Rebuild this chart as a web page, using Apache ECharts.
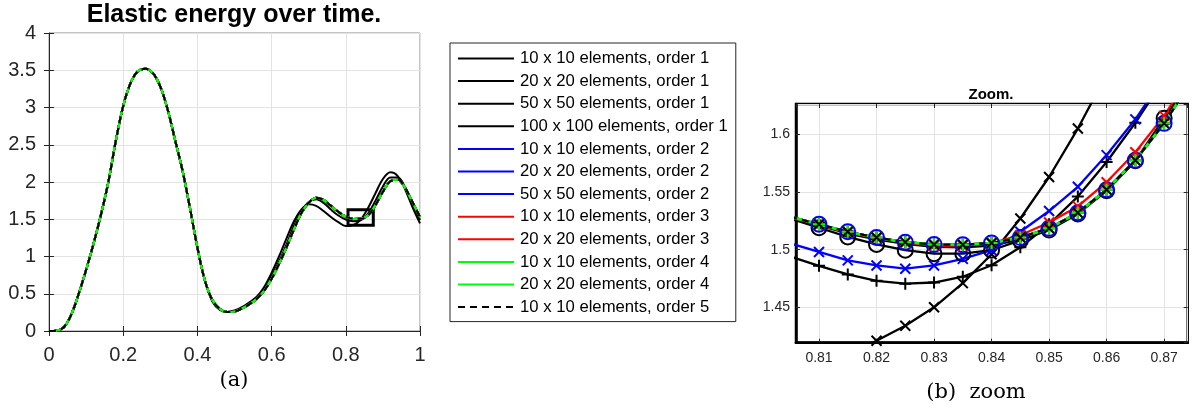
<!DOCTYPE html>
<html>
<head>
<meta charset="utf-8">
<script src="https://cdn.jsdelivr.net/npm/echarts@6/dist/echarts.min.js"></script>
<style>
  html, body { margin: 0; padding: 0; background: #fff; }
  #chart { width: 1192px; height: 408px; }
</style>
</head>
<body>
<div id="chart"></div>
<script>
// full run, sampled every 0.02
const tFull = [0, 0.02, 0.04, 0.06, 0.08, 0.1, 0.12, 0.14, 0.16, 0.18, 0.2, 0.22, 0.24, 0.26, 0.28, 0.3, 0.32, 0.34, 0.36, 0.38,
  0.4, 0.42, 0.44, 0.46, 0.48, 0.5, 0.52, 0.54, 0.56, 0.58, 0.6, 0.62, 0.64, 0.66, 0.68, 0.7, 0.72, 0.74, 0.76, 0.78,
  0.8, 0.82, 0.84, 0.86, 0.88, 0.9, 0.92, 0.94, 0.96, 0.98, 1];
// converged solution (orders 2-5 and fine order 1 sit on top of each other)
const energyRef = [0, 0.005, 0.05, 0.22, 0.5, 0.82, 1.17, 1.56, 2.0, 2.55, 3.02, 3.33, 3.49, 3.52, 3.46, 3.28, 2.97, 2.56, 2.15, 1.65,
  1.12, 0.68, 0.42, 0.3, 0.255, 0.26, 0.3, 0.36, 0.43, 0.54, 0.7, 0.9, 1.12, 1.36, 1.58, 1.72, 1.79, 1.76, 1.68, 1.6,
  1.535, 1.505, 1.506, 1.553, 1.69, 1.87, 2.01, 2.03, 1.92, 1.73, 1.53];
const energyO1n10 = [0, 0.005, 0.05, 0.22, 0.5, 0.82, 1.17, 1.56, 2.0, 2.55, 3.02, 3.33, 3.49, 3.52, 3.46, 3.28, 2.97, 2.56, 2.15, 1.65,
  1.12, 0.68, 0.4, 0.285, 0.255, 0.275, 0.32, 0.385, 0.46, 0.59, 0.78, 1.0, 1.24, 1.47, 1.63, 1.7, 1.68, 1.61, 1.53, 1.46,
  1.41, 1.421, 1.496, 1.652, 1.85, 2.04, 2.13, 2.08, 1.9, 1.66, 1.445];
const energyO1n20 = [0, 0.005, 0.05, 0.22, 0.5, 0.82, 1.17, 1.56, 2.0, 2.55, 3.02, 3.33, 3.49, 3.52, 3.46, 3.28, 2.97, 2.56, 2.15, 1.65,
  1.12, 0.68, 0.41, 0.29, 0.255, 0.265, 0.31, 0.37, 0.44, 0.56, 0.73, 0.93, 1.16, 1.41, 1.6, 1.73, 1.77, 1.72, 1.63, 1.55,
  1.496, 1.473, 1.4865, 1.576, 1.75, 1.94, 2.06, 2.06, 1.93, 1.72, 1.49];

// zoom window, sampled every 0.005
const tZoom = [0.805, 0.81, 0.815, 0.82, 0.825, 0.83, 0.835, 0.84, 0.845, 0.85, 0.855, 0.86, 0.865, 0.87, 0.875];
const zoomRef = [1.5285, 1.522, 1.5155, 1.5105, 1.5065, 1.5045, 1.5043, 1.5057, 1.5105, 1.5185, 1.532, 1.552, 1.5775, 1.6095, 1.648];
const zoomO1n10 = [1.395, 1.401, 1.409, 1.421, 1.434, 1.45, 1.471, 1.496, 1.527, 1.563, 1.605, 1.652, 1.7, 1.75, 1.8];
const zoomO1n20 = [1.494, 1.486, 1.4785, 1.473, 1.4705, 1.4715, 1.4765, 1.4865, 1.502, 1.522, 1.546, 1.576, 1.61, 1.648, 1.69];
const zoomO1n50 = [1.527, 1.519, 1.511, 1.5045, 1.4995, 1.4965, 1.4965, 1.4995, 1.508, 1.517, 1.531, 1.551, 1.577, 1.614, 1.652];
const zoomO1n100 = [1.528, 1.521, 1.514, 1.509, 1.505, 1.5025, 1.502, 1.5035, 1.509, 1.518, 1.532, 1.552, 1.577, 1.611, 1.65];
const zoomO2n10 = [1.5055, 1.498, 1.4907, 1.4863, 1.4835, 1.4863, 1.492, 1.4995, 1.5155, 1.5335, 1.5545, 1.582, 1.613, 1.65, 1.69];
const zoomO3n10 = [1.528, 1.5215, 1.515, 1.51, 1.506, 1.5035, 1.5035, 1.5055, 1.5125, 1.5235, 1.5375, 1.5585, 1.5845, 1.616, 1.655];

// zoom window limits (also the box drawn in the left plot)
const zoomX = [0.806, 0.8741];
const zoomY = [1.4193, 1.6263];

const runNames = [
  '10 x 10 elements, order 1',
  '20 x 20 elements, order 1',
  '50 x 50 elements, order 1',
  '100 x 100 elements, order 1',
  '10 x 10 elements, order 2',
  '20 x 20 elements, order 2',
  '50 x 50 elements, order 2',
  '10 x 10 elements, order 3',
  '20 x 20 elements, order 3',
  '10 x 10 elements, order 4',
  '20 x 20 elements, order 4',
  '10 x 10 elements, order 5',
];
const runFull = [energyO1n10, energyO1n20, energyRef, energyRef, energyRef, energyRef, energyRef, energyRef, energyRef, energyRef, energyRef, energyRef];
const runZoom = [zoomO1n10, zoomO1n20, zoomO1n50, zoomO1n100, zoomO2n10, zoomRef, zoomRef, zoomO3n10, zoomRef, zoomRef, zoomRef, zoomRef];

// styles
const runColor = ['#000', '#000', '#000', '#000', '#0000ff', '#0000ff', '#0000ff', '#ff0000', '#ff0000', '#00ff00', '#00ff00', '#000'];
const runMarker = ['x', '+', 'o', '.', 'x', '+', 'o', 'x', '+', 'x', '+', 'x'];

const FONT = 'Liberation Sans, Arial, sans-serif';
const AXIS_C = '#262626';
const X_MARK = 'path://M0,0L10,10M0,10L10,0';
const PLUS_MARK = 'path://M5,0L5,10M0,5L10,5';

function zip (xs, ys) {
  return xs.map((x, i) => [x, ys[i]]);
}

function markerOpts (kind, color) {
  if (kind == 'x') return {symbol: X_MARK, symbolSize: 10, itemStyle: {color: 'none', borderColor: color, borderWidth: 2}};
  if (kind == '+') return {symbol: PLUS_MARK, symbolSize: 12, itemStyle: {color: 'none', borderColor: color, borderWidth: 2}};
  if (kind == 'o') return {symbol: 'circle', symbolSize: 15, itemStyle: {color: 'none', borderColor: color, borderWidth: 2}};
  return {symbol: 'circle', symbolSize: 5, itemStyle: {color: color}};
}

const series = [];
// left plot: whole run, no markers
runNames.forEach((name, k) => {
  const dashed = k == runNames.length - 1;
  const s = {
    name,
    type: 'line',
    xAxisIndex: 0,
    yAxisIndex: 0,
    data: zip(tFull, runFull[k]),
    smooth: 0.35,
    symbol: 'none',
    showSymbol: false,
    itemStyle: {color: runColor[k]},
    lineStyle: {color: runColor[k], width: 2, type: dashed ? [7, 5] : 'solid'},
  };
  if (dashed) {
    s.markArea = {
      silent: true,
      itemStyle: {color: 'rgba(0,0,0,0)', borderColor: '#000', borderWidth: 3},
      data: [[{coord: [zoomX[0], zoomY[0]]}, {coord: [zoomX[1], zoomY[1]]}]],
    };
  }
  series.push(s);
});
// right plot: zoom, with markers
runNames.forEach((name, k) => {
  const dashed = k == runNames.length - 1;
  series.push(Object.assign({
    name,
    type: 'line',
    xAxisIndex: 1,
    yAxisIndex: 1,
    data: zip(tZoom, runZoom[k]),
    clip: true,
    lineStyle: {color: runColor[k], width: 2.3, type: dashed ? [7, 5] : 'solid'},
  }, markerOpts(runMarker[k], runColor[k])));
});

// mirrored tick marks on the top / right of each box
function mirrorAxis (gridIndex, position, extra) {
  return Object.assign({
    gridIndex, type: 'value', position,
    axisLine: {show: false},
    axisTick: {show: true, inside: true, length: gridIndex == 0 ? 5 : 4, lineStyle: {color: AXIS_C}},
    axisLabel: {show: false},
    splitLine: {show: false},
  }, extra);
}

const option = {
  animation: false,
  backgroundColor: '#fff',
  title: [
    {text: 'Elastic energy over time.', left: 234, top: 3, textAlign: 'center', padding: 0,
      textStyle: {fontFamily: FONT, fontSize: 25, fontWeight: 'bold', color: '#000'}},
    {text: 'Zoom.', left: 991, top: 87, textAlign: 'center', padding: 0,
      textStyle: {fontFamily: FONT, fontSize: 15, fontWeight: 'bold', color: '#000'}},
    {text: '(a)', left: 234, top: 370, textAlign: 'center', padding: 0,
      textStyle: {fontFamily: 'DejaVu Serif, serif', fontSize: 21, fontWeight: 'normal', color: '#000'}},
    {text: '(b)  zoom', left: 976, top: 382, textAlign: 'center', padding: 0,
      textStyle: {fontFamily: 'DejaVu Serif, serif', fontSize: 21, fontWeight: 'normal', color: '#000'}},
  ],
  legend: {
    data: runNames,
    orient: 'vertical',
    left: 450,
    top: 43,
    itemWidth: 56,
    itemHeight: 14,
    itemGap: 5.6,
    padding: [7, 8, 6, 7],
    borderColor: AXIS_C,
    borderWidth: 1,
    selectedMode: false,
    itemStyle: {opacity: 0},
    textStyle: {fontFamily: FONT, fontSize: 16.7, lineHeight: 17, color: '#000', padding: [0, 0, 0, 1]},
  },
  grid: [
    {left: 49, top: 33, width: 371, height: 298, show: true, borderColor: '#8c8c8c', borderWidth: 1},
    {left: 796, top: 104, width: 391.7, height: 238.7, show: true, borderColor: '#000', borderWidth: 2.5},
  ],
  xAxis: [
    {
      gridIndex: 0, type: 'value', min: 0, max: 1, interval: 0.2,
      axisLine: {lineStyle: {color: AXIS_C}},
      axisTick: {inside: true, length: 5, lineStyle: {color: AXIS_C}},
      axisLabel: {fontFamily: FONT, fontSize: 20, color: AXIS_C, margin: 14},
      splitLine: {show: true, lineStyle: {color: '#e3e3e3'}},
    },
    {
      gridIndex: 1, type: 'value', min: zoomX[0], max: zoomX[1], splitNumber: 7,
      axisLine: {lineStyle: {color: '#000', width: 2.5}},
      axisTick: {inside: true, length: 4, lineStyle: {color: AXIS_C}},
      axisLabel: {fontFamily: FONT, fontSize: 14, color: AXIS_C, margin: 8, showMinLabel: false, showMaxLabel: false},
      splitLine: {show: true, lineStyle: {color: '#e3e3e3'}},
    },
    mirrorAxis(0, 'top', {min: 0, max: 1, interval: 0.2}),
    mirrorAxis(1, 'top', {min: zoomX[0], max: zoomX[1], splitNumber: 7}),
  ],
  yAxis: [
    {
      gridIndex: 0, type: 'value', min: 0, max: 4, interval: 0.5,
      axisLine: {show: true, lineStyle: {color: AXIS_C}},
      axisTick: {show: true, inside: true, length: 5, lineStyle: {color: AXIS_C}},
      axisLabel: {fontFamily: FONT, fontSize: 20, color: AXIS_C, margin: 13},
      splitLine: {show: true, lineStyle: {color: '#e3e3e3'}},
    },
    {
      gridIndex: 1, type: 'value', min: zoomY[0], max: zoomY[1], splitNumber: 4,
      axisLine: {show: true, lineStyle: {color: '#000', width: 2.5}},
      axisTick: {show: true, inside: true, length: 4, lineStyle: {color: AXIS_C}},
      axisLabel: {fontFamily: FONT, fontSize: 14, color: AXIS_C, margin: 6, showMinLabel: false, showMaxLabel: false},
      splitLine: {show: true, lineStyle: {color: '#e3e3e3'}},
    },
    mirrorAxis(0, 'right', {min: 0, max: 4, interval: 0.5}),
    mirrorAxis(1, 'right', {min: zoomY[0], max: zoomY[1], splitNumber: 4}),
  ],
  series,
};

const chart = echarts.init(document.getElementById('chart'), null, {renderer: 'canvas'});
chart.setOption(option);
</script>
</body>
</html>
